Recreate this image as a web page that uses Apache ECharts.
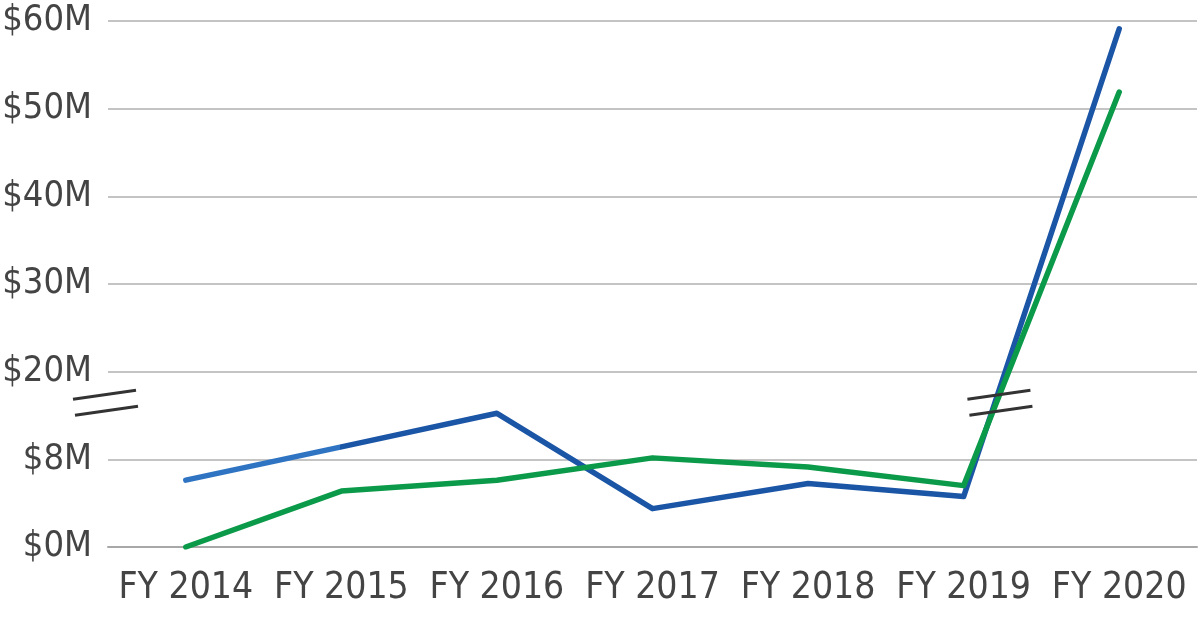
<!DOCTYPE html>
<html>
<head>
<meta charset="utf-8">
<script src="https://cdn.jsdelivr.net/npm/echarts@6/dist/echarts.min.js"></script>
<style>
  html, body { margin: 0; padding: 0; background: #fff; }
  #chart { width: 1200px; height: 640px; }
</style>
</head>
<body>
<div id="chart"></div>
<script>
const years = ['FY 2014', 'FY 2015', 'FY 2016', 'FY 2017', 'FY 2018', 'FY 2019', 'FY 2020']
// values in $M
const blueValues = [6.1, 9.7, 14.3, 3.5, 5.8, 4.6, 59.1]
const greenValues = [0, 5.1, 6.1, 8.2, 7.3, 5.6, 51.9]
// broken axis: each tick gets one even step
const tickValues = [0, 8, 20, 30, 40, 50, 60]
const tickLabels = ['$0M', '$8M', '$20M', '$30M', '$40M', '$50M', '$60M']

const font = "'Liberation Sans Narrow', 'DejaVu Sans Condensed', 'Roboto Condensed', 'Noto Sans', sans-serif"

// map a $M value onto the stepped axis
const toStep = (v) => {
  for (let i = 0; i < tickValues.length - 1; i++) {
    if (v <= tickValues[i + 1]) {
      return i + (v - tickValues[i]) / (tickValues[i + 1] - tickValues[i])
    }
  }
  return tickValues.length - 1
}

// first blue segment is a lighter blue
const cut = 1 / (years.length - 1)
const blueColor = new echarts.graphic.LinearGradient(0, 0, 1, 0, [
  { offset: 0, color: '#2f74c2' },
  { offset: cut, color: '#2f74c2' },
  { offset: cut, color: '#1b55a6' },
  { offset: 1, color: '#1b55a6' }
])

const myChart = echarts.init(document.getElementById('chart'))

const option = {
  animation: false,
  grid: { left: 108, right: 3, top: 21, bottom: 93, outerBoundsMode: 'none', containLabel: false },
  xAxis: {
    type: 'category',
    data: years,
    axisTick: { show: false },
    axisLine: { lineStyle: { color: '#a8a8a8', width: 2 } },
    axisLabel: { interval: 0, fontFamily: font, fontSize: 37, color: '#444', margin: 23 }
  },
  yAxis: {
    type: 'value',
    min: 0,
    max: tickValues.length - 1,
    interval: 1,
    axisLine: { show: false },
    axisTick: { show: false },
    splitLine: { lineStyle: { color: '#c4c4c4', width: 2 } },
    axisLabel: {
      fontFamily: font, fontSize: 36, color: '#444', margin: 16,
      formatter: (v) => tickLabels[v]
    }
  },
  series: [
    {
      type: 'line',
      data: blueValues.map(toStep),
      symbol: 'none',
      lineStyle: { width: 5.5, color: blueColor, cap: 'round', join: 'round' },
      z: 2
    },
    {
      type: 'line',
      data: greenValues.map(toStep),
      symbol: 'none',
      lineStyle: { width: 5.5, color: '#0b9a49', cap: 'round', join: 'round' },
      z: 3
    }
  ]
}
myChart.setOption(option)

// break marks (double slashes) placed through the axes
const x0 = myChart.convertToPixel({ xAxisIndex: 0 }, 0)
const x1 = myChart.convertToPixel({ xAxisIndex: 0 }, 1)
const band = x1 - x0
const breakY = myChart.convertToPixel({ yAxisIndex: 0 }, 1.65)
const slash = (cx, cy) => [
  { type: 'line', shape: { x1: cx - 32, y1: cy - 3, x2: cx + 31, y2: cy - 12 }, style: { stroke: '#333', lineWidth: 3 }, z: 10 },
  { type: 'line', shape: { x1: cx - 30, y1: cy + 13, x2: cx + 33, y2: cy + 4 }, style: { stroke: '#333', lineWidth: 3 }, z: 10 }
]
const leftX = x0 - band / 2 - 3
const rightX = myChart.convertToPixel({ xAxisIndex: 0 }, 5) + band * 0.23
myChart.setOption({
  graphic: [...slash(leftX, breakY), ...slash(rightX, breakY)]
})
</script>
</body>
</html>
